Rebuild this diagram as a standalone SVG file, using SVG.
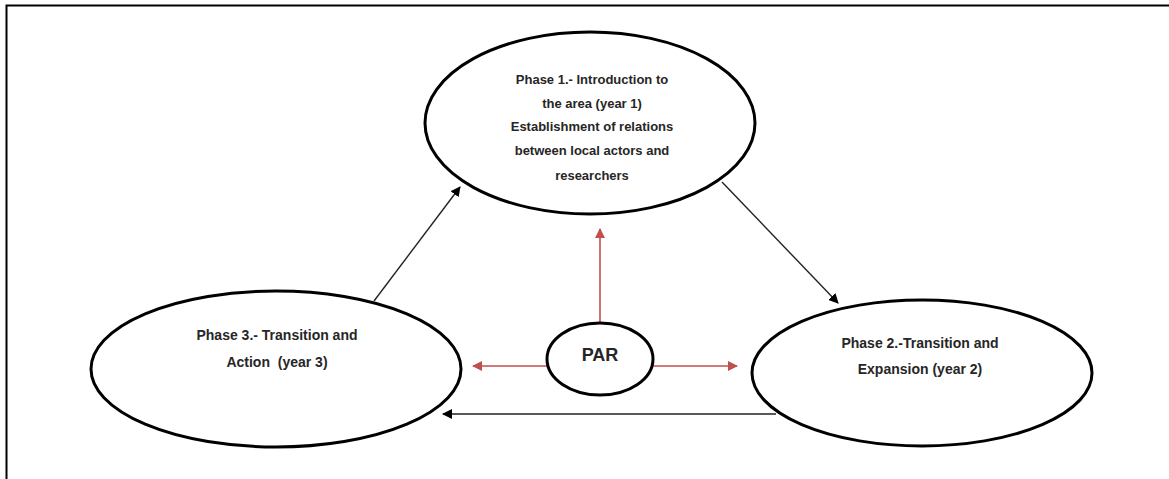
<svg xmlns="http://www.w3.org/2000/svg" width="1169" height="479" viewBox="0 0 1169 479">
<style>
.node ellipse{fill:#fff;stroke:#000;stroke-width:3}
.lbl{font-family:"Liberation Sans",Arial,sans-serif;font-weight:bold;fill:#262626;text-anchor:middle}
.blk{stroke:#222;stroke-width:1.4;fill:none}
.red{stroke:#c0504d;stroke-width:1.6;fill:none}
</style>
<defs>
<marker id="ab" viewBox="0 0 10 10" refX="9" refY="5" markerWidth="10" markerHeight="10" markerUnits="userSpaceOnUse" orient="auto"><path d="M0,0 L10,5 L0,10 z" fill="#000"/></marker>
<marker id="ar" viewBox="0 0 10 10" refX="9" refY="5" markerWidth="10" markerHeight="10" markerUnits="userSpaceOnUse" orient="auto"><path d="M0,0 L10,5 L0,10 z" fill="#c0504d"/></marker>
</defs>
<rect width="1169" height="479" fill="#fff"/>
<path d="M6.5,479 L6.5,5.5 L1169,5.5" fill="none" stroke="#000" stroke-width="2"/>
<g id="connectors">
<line class="blk" x1="374" y1="301" x2="460" y2="187" marker-end="url(#ab)"/>
<line class="blk" x1="722" y1="182" x2="838" y2="303" marker-end="url(#ab)"/>
<line class="blk" x1="776" y1="414" x2="443" y2="414" marker-end="url(#ab)"/>
<line class="red" x1="600" y1="323" x2="600" y2="229" marker-end="url(#ar)"/>
<line class="red" x1="547" y1="366" x2="473" y2="366" marker-end="url(#ar)"/>
<line class="red" x1="653" y1="366" x2="737" y2="366" marker-end="url(#ar)"/>
</g>
<g id="phase1" class="node">
<ellipse cx="590" cy="123" rx="165" ry="91"/>
<text class="lbl" font-size="13" x="592" y="84">Phase 1.- Introduction to</text>
<text class="lbl" font-size="13" x="592" y="108">the area (year 1)</text>
<text class="lbl" font-size="13" x="592" y="131">Establishment of relations</text>
<text class="lbl" font-size="13" x="592" y="155">between local actors and</text>
<text class="lbl" font-size="13" x="592" y="180">researchers</text>
</g>
<g id="phase3" class="node">
<ellipse cx="276" cy="369" rx="185" ry="78"/>
<text class="lbl" font-size="14" x="277" y="340">Phase 3.- Transition and</text>
<text class="lbl" font-size="14" x="277" y="367" xml:space="preserve">Action  (year 3)</text>
</g>
<g id="phase2" class="node">
<ellipse cx="922" cy="373" rx="170" ry="73"/>
<text class="lbl" font-size="14" x="920" y="348">Phase 2.-Transition and</text>
<text class="lbl" font-size="14" x="920" y="374">Expansion (year 2)</text>
</g>
<g id="par" class="node">
<ellipse cx="600" cy="359" rx="53" ry="36"/>
<text class="lbl" font-size="18" x="600" y="361">PAR</text>
</g>
</svg>
